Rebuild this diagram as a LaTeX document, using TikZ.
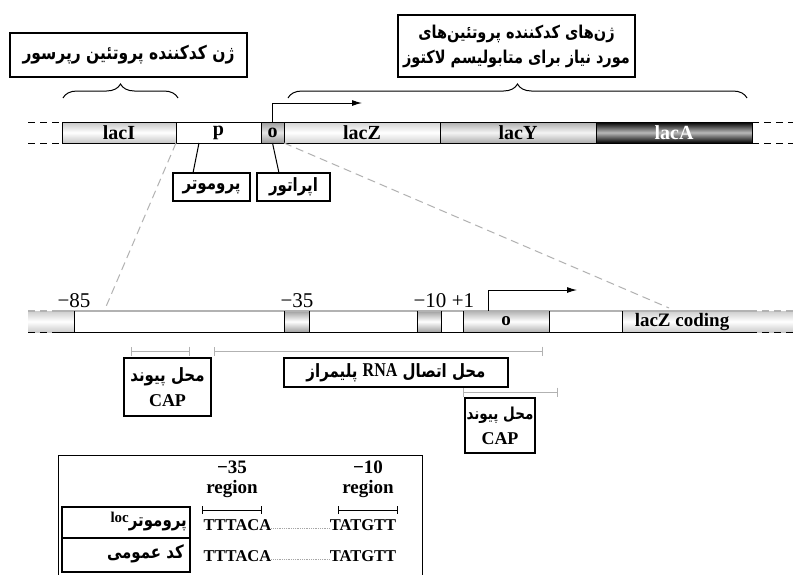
\documentclass[tikz,border=0pt]{standalone}
\usepackage{fontspec}
\usepackage{graphicx}
\setmainfont{Liberation Serif}
\newfontfamily\fafont[Script=Arabic]{DejaVu Sans}
\TeXXeTstate=1
\usetikzlibrary{arrows.meta,decorations.pathreplacing}
\newcommand{\FA}[1]{\scalebox{1}[1.22]{\fafont\bfseries\beginR #1\endR}}
\begin{document}
\begin{tikzpicture}[x=1pt,y=-1pt,
  seg/.style={draw=black,line width=1pt,minimum height=21pt,inner sep=0pt,outer sep=0pt,anchor=north west,font=\bfseries\fontsize{20}{20}\selectfont},
  bseg/.style={minimum height=21pt,inner sep=0pt,outer sep=0pt,anchor=north west,font=\bfseries\fontsize{19}{19}\selectfont},
  lbox/.style={draw=black,line width=1.2pt,inner sep=0pt,outer sep=0pt,align=center},
  fa/.style={font=\fontsize{15}{25}\selectfont},
  dashline/.style={line width=1pt,dash pattern=on 7pt off 5pt},
  zoomline/.style={gray!60,line width=1pt,dash pattern=on 8pt off 5pt},
  brc/.style={decorate,decoration={brace,amplitude=14pt},line width=1pt},
  arr/.style={line width=1pt,-{Latex[length=10pt,width=6pt]}},
  gbar/.style={gray!60,line width=1pt,{Bar[width=9pt]}-{Bar[width=9pt]}},
  kbar/.style={black,line width=1pt,{Bar[width=8pt]}-{Bar[width=8pt]}},
  numlab/.style={font=\fontsize{21}{21}\selectfont,inner sep=0pt},
  tlab/.style={font=\bfseries\fontsize{16.5}{16.5}\selectfont,inner sep=0pt},
  hlab/.style={font=\bfseries\fontsize{19}{19}\selectfont,inner sep=0pt},
  dotl/.style={gray!70,line width=0.6pt,dash pattern=on 0.6pt off 1.2pt}]
\useasboundingbox (0,0) rectangle (793,574);
\fill[white] (0,0) rectangle (793,574);

% ---------- top bar ----------
\node[seg,minimum width=114pt,top color=gray!45,bottom color=gray!45,middle color=white] (lacI) at (62,122) {lacI};
\node[seg,minimum width=85pt,fill=white] (p) at (176,122) {p};
\node[seg,minimum width=23pt,top color=gray!80,bottom color=gray!80,middle color=gray!20] (o) at (261,122) {o};
\node[seg,minimum width=156pt,top color=gray!35,bottom color=gray!35,middle color=white] (lacZ) at (284,122) {lacZ};
\node[seg,minimum width=156pt,top color=gray!65,bottom color=gray!65,middle color=gray!8] (lacY) at (440,122) {lacY};
\node[seg,minimum width=156pt,top color=black,bottom color=black,middle color=gray!55,text=white] (lacA) at (596,122) {lacA};

\coordinate (dl1) at (28,122); \coordinate (dl2) at (28,143);
\coordinate (dr1) at (793,122); \coordinate (dr2) at (793,143);
\draw[dashline] (dl1) -- (lacI.north west);
\draw[dashline] (dl2) -- (lacI.south west);
\draw[dashline] (lacA.north east) -- (dr1);
\draw[dashline] (lacA.south east) -- (dr2);

% braces
\coordinate (b1a) at (63,98); \coordinate (b1b) at (178,98);
\coordinate (b2a) at (288,98); \coordinate (b2b) at (747,98);
\draw[brc] (b1a) -- (b1b);
\draw[brc] (b2a) -- (b2b);

% top boxes
\node[lbox,font=\fontsize{15.5}{25}\selectfont,minimum width=237pt,minimum height=44pt] (repbox) at (128.5,55) {\FA{ژن کدکننده پروتئین رپرسور}};
\node[lbox,font=\fontsize{14.5}{25}\selectfont,minimum width=237pt,minimum height=62pt] (lacbox) at (516.5,46) {\FA{ژن‌های کدکننده پروتئین‌های}\\\FA{مورد نیاز برای متابولیسم لاکتوز}};

% transcription arrow
\coordinate (a1) at (362,103);
\draw[arr] (o.north) |- (a1);

% promoter / operator labels
\node[lbox,fa,minimum width=77pt,minimum height=28pt] (prom) at (211.5,187) {\FA{پروموتر}};
\node[lbox,fa,minimum width=73pt,minimum height=28pt] (oper) at (293.5,187) {\FA{اپراتور}};
\coordinate (pp) at (199,143);
\draw[line width=1pt] (pp) -- ([xshift=-18.5pt]prom.north);
\draw[line width=1pt] (o.south) -- ([xshift=-14.5pt]oper.north);

% zoom lines
\coordinate (z1) at (105,309); \coordinate (z2) at (669,308);
\draw[zoomline] (lacI.south east) -- (z1);
\draw[zoomline] (o.south east) -- (z2);

% ---------- second bar ----------
\node[bseg,minimum width=46pt,top color=gray!40,bottom color=gray!40,middle color=white] (left2) at (28,311) {};
\node[bseg,minimum width=25pt,top color=gray!75,bottom color=gray!75,middle color=white] (b35) at (284,311) {};
\node[bseg,minimum width=24pt,top color=gray!75,bottom color=gray!75,middle color=white] (b10) at (417,311) {};
\node[bseg,minimum width=86pt,top color=gray!60,bottom color=gray!60,middle color=white] (o2) at (463,311) {o};
\node[bseg,minimum width=171pt,top color=gray!40,bottom color=gray!40,middle color=white] (lzc) at (622,311) {};
\node[numlab,font=\bfseries\fontsize{19}{19}\selectfont] (lzct) at (682,321.5) {lacZ coding};

\draw[gray!60,line width=1.2pt] (55,311) -- (750,311);
\draw[gray!60,line width=1.2pt,dash pattern=on 7pt off 5pt] (28,311) -- (55,311);
\draw[gray!60,line width=1.2pt,dash pattern=on 7pt off 5pt] (750,311) -- (793,311);
\draw[black,line width=1pt] (55,332) -- (750,332);
\draw[black,line width=1pt,dash pattern=on 7pt off 5pt] (28,332) -- (55,332);
\draw[black,line width=1pt,dash pattern=on 7pt off 5pt] (750,332) -- (793,332);
\draw[line width=1pt] (left2.north east) -- (left2.south east);
\draw[line width=1pt] (b35.north west) -- (b35.south west);
\draw[line width=1pt] (b35.north east) -- (b35.south east);
\draw[line width=1pt] (b10.north west) -- (b10.south west);
\draw[line width=1pt] (b10.north east) -- (b10.south east);
\draw[line width=1pt] (o2.north west) -- (o2.south west);
\draw[line width=1pt] (o2.north east) -- (o2.south east);
\draw[line width=1pt] (lzc.north west) -- (lzc.south west);

\node[numlab] (n85) at (74,301) {−85};
\node[numlab] (n35) at (297,301) {−35};
\node[numlab] (n10) at (430,301) {−10};
\node[numlab] (n1) at (463,301) {+1};

\coordinate (a2) at (577,290);
\draw[arr] ([xshift=25pt]o2.north west) |- (a2);

% site brackets
\coordinate (c1a) at (131,351); \coordinate (c1b) at (190,351);
\coordinate (r1a) at (214,351); \coordinate (r1b) at (543,351);
\coordinate (c2a) at (463,392); \coordinate (c2b) at (558,392);
\draw[gbar] (c1a) -- (c1b);
\draw[gbar] (r1a) -- (r1b);
\draw[gbar] (c2a) -- (c2b);

\node[lbox,fa,minimum width=87pt,minimum height=58pt] (cap1) at (167.5,387) {\FA{محل پیوند}\\{\bfseries\fontsize{18}{18}\selectfont CAP}};
\node[lbox,fa,minimum width=224pt,minimum height=29pt] (rnab) at (396,372.5) {\scalebox{1}[1.22]{\fafont\bfseries\beginR محل اتصال \beginL{\rmfamily\fontsize{16}{16}\selectfont\raisebox{1pt}{RNA}}\endL{} پلیمراز\endR}};
\node[lbox,font=\fontsize{13.5}{25}\selectfont,minimum width=70pt,minimum height=55pt] (cap2) at (500,425.5) {\FA{محل پیوند}\\{\bfseries\fontsize{18}{18}\selectfont CAP}};

% ---------- table ----------
\node[draw=black,line width=1.2pt,minimum width=364pt,minimum height=121pt,inner sep=0pt,anchor=north west] (tab) at (58,455) {};
\node[lbox,minimum width=128pt,minimum height=31pt,anchor=north west] (row1) at (62,507) {};
\node[lbox,minimum width=128pt,minimum height=34pt,anchor=north west] (row2) at (62,538) {};
\node[fa,anchor=east,inner sep=0pt] (row1t) at (187,522) {{\bfseries\fontsize{15}{15}\selectfont\raisebox{4pt}{loc}}\FA{پروموتر}};
\node[fa,anchor=east,inner sep=0pt] (row2t) at (184,554) {\FA{کد عمومی}};

\node[hlab] (h35) at (232,467) {−35};
\node[hlab] (h35r) at (232,489) {region};
\node[hlab] (h10) at (368,467) {−10};
\node[hlab] (h10r) at (368,489) {region};
\coordinate (k1a) at (202,510); \coordinate (k1b) at (262,510);
\coordinate (k2a) at (338,510); \coordinate (k2b) at (398,510);
\draw[kbar] (k1a) -- (k1b);
\draw[kbar] (k2a) -- (k2b);

\node[tlab] (s1a) at (237.5,525) {TTTACA};
\node[tlab] (s1b) at (363,525) {TATGTT};
\node[tlab] (s2a) at (237.5,556) {TTTACA};
\node[tlab] (s2b) at (363,556) {TATGTT};
\draw[dotl] ([yshift=-3pt]s1a.east) -- ([yshift=-3pt]s1b.west);
\draw[dotl] ([yshift=-3pt]s2a.east) -- ([yshift=-3pt]s2b.west);
\end{tikzpicture}
\end{document}
